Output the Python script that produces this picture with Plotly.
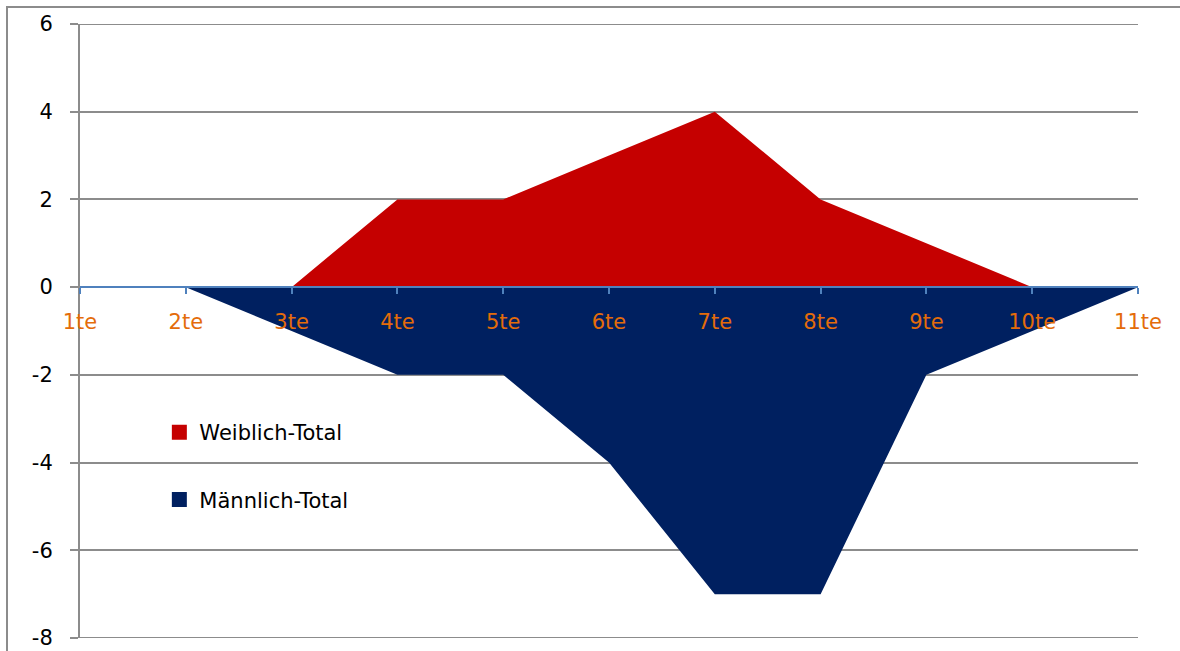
import plotly.graph_objects as go

categories = ["1te", "2te", "3te", "4te", "5te", "6te", "7te", "8te", "9te", "10te", "11te"]
weiblich = [0, 0, 0, 2, 2, 3, 4, 2, 1, 0, 0]
maennlich = [0, 0, -1, -2, -2, -4, -7, -7, -2, -1, 0]
y_ticks = [-8, -6, -4, -2, 0, 2, 4, 6]
y_ticktext = ["-8", "-6", "-4", "-2", "0", "2", "4", "6"]

RED = "#C50000"
NAVY = "#002060"
GRID = "#8c8c8c"
FONT = "DejaVu Sans"

xs = list(range(len(categories)))

fig = go.Figure()
fig.add_trace(go.Scatter(x=xs, y=weiblich, fill="tozeroy", mode="lines",
                         line=dict(width=0, color=RED), fillcolor=RED,
                         showlegend=False, hoverinfo="skip"))
fig.add_trace(go.Scatter(x=xs, y=maennlich, fill="tozeroy", mode="lines",
                         line=dict(width=0, color=NAVY), fillcolor=NAVY,
                         showlegend=False, hoverinfo="skip"))
# legend entries
fig.add_trace(go.Scatter(x=[None], y=[None], mode="markers", name="Weiblich-Total",
                         marker=dict(symbol="square", size=15, color=RED),
                         legendgroup="w"))
fig.add_trace(go.Scatter(x=[None], y=[None], mode="markers", name="Männlich-Total",
                         marker=dict(symbol="square", size=15, color=NAVY),
                         legendgroup="m"))

ymin, ymax = -8, 6
zero_pos = (0 - ymin) / (ymax - ymin)

edge_lines = [dict(type="line", xref="paper", yref="y", x0=0, x1=1, y0=v, y1=v,
                   line=dict(color=GRID, width=2), layer="below")
              for v in (ymin, ymax)]

fig.update_layout(
    width=1180, height=651,
    margin=dict(l=80, r=42, t=24, b=13),
    paper_bgcolor="white", plot_bgcolor="white",
    font=dict(family=FONT, size=20, color="black"),
    xaxis=dict(range=[0, len(categories) - 1], tickvals=xs, ticktext=categories,
               anchor="free", position=zero_pos, showgrid=False, zeroline=False,
               showline=True, linecolor="#4F81BD", linewidth=2,
               ticks="outside", ticklen=6, tickwidth=2, tickcolor="#4F81BD",
               tickfont=dict(family=FONT, size=21, color="#E46C0A"),
               ticklabelstandoff=10, automargin=False,
               layer="above traces"),
    yaxis=dict(range=[ymin, ymax], tickvals=y_ticks, ticktext=y_ticktext,
               showgrid=True, gridcolor=GRID,
               gridwidth=2, zeroline=False, showline=True, linecolor=GRID, linewidth=2,
               ticks="outside", ticklen=8, tickwidth=2, tickcolor=GRID,
               tickfont=dict(family=FONT, size=21, color="black"),
               ticklabelstandoff=13, automargin=False),
    legend=dict(x=0.075, y=0.368, xanchor="left", yanchor="top",
                bgcolor="rgba(0,0,0,0)", tracegroupgap=37, traceorder="grouped",
                font=dict(family=FONT, size=21, color="black"), itemwidth=30),
    shapes=edge_lines + [dict(type="rect", xref="paper", yref="paper",
                 x0=(7 - 80) / 1058, x1=1.2, y0=-0.2, y1=(638 - 7) / 614,
                 line=dict(color=GRID, width=2), layer="below")],
)

fig.write_html("out.html")
